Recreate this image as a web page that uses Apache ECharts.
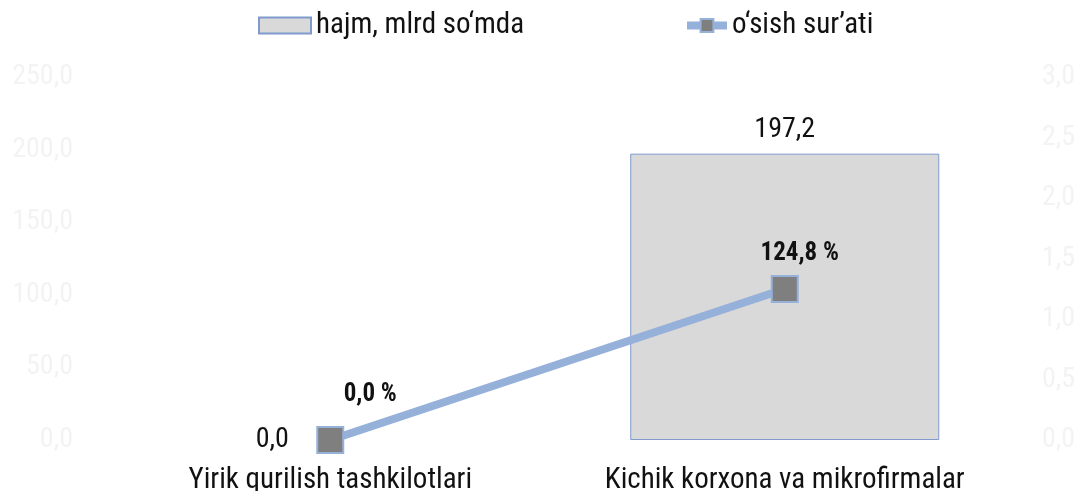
<!DOCTYPE html>
<html>
<head>
<meta charset="utf-8">
<script src="https://cdn.jsdelivr.net/npm/echarts@6/dist/echarts.min.js"></script>
<style>
html, body { margin: 0; padding: 0; background: #fff; }
#main { width: 1076px; height: 491px; }
</style>
</head>
<body>
<div id="main"></div>
<script>
var categories = ['Yirik qurilish tashkilotlari', 'Kichik korxona va mikrofirmalar'];
var hajm = [0.0, 197.2];
var osish = [0.0, 1.248];
var leftTicks = [0, 250, 50];
var rightTicks = [0, 3, 0.5];

var fontFam = '"Roboto Condensed", "Liberation Sans Narrow", Roboto, sans-serif';
var chartDom = document.getElementById('main');
var myChart = echarts.init(chartDom);
var option;

function fmt(v, d) {
    return v.toFixed(d).replace('.', ',');
}

option = {
    textStyle: { fontFamily: fontFam },
    legend: [
        {
            top: 6,
            left: 253,
            itemWidth: 52,
            itemHeight: 16,
            itemGap: 4,
            textStyle: { fontSize: 29, color: '#111', fontFamily: fontFam },
            data: [{ name: 'hajm, mlrd so‘mda', icon: 'rect' }]
        },
        {
            top: 6,
            left: 678,
            itemWidth: 40,
            itemHeight: 16,
            itemGap: 4,
            lineStyle: { width: 8 },
            textStyle: { fontSize: 29, color: '#111', fontFamily: fontFam },
            data: [{ name: 'o‘sish sur’ati' }]
        }
    ],
    grid: { left: 103, right: 64, top: 77, bottom: 51, outerBoundsMode: 'none', containLabel: false },
    xAxis: {
        type: 'category',
        data: categories,
        axisLine: { show: false },
        axisTick: { show: false },
        axisLabel: { interval: 0, fontSize: 29, color: '#111', margin: 26, fontFamily: fontFam }
    },
    yAxis: [
        {
            type: 'value',
            min: leftTicks[0], max: leftTicks[1], interval: leftTicks[2],
            splitLine: { show: false },
            axisLabel: { fontSize: 28, color: '#f3f3f3', margin: 30, formatter: function (v) { return fmt(v, 1); } }
        },
        {
            type: 'value',
            min: rightTicks[0], max: rightTicks[1], interval: rightTicks[2],
            splitLine: { show: false },
            axisLabel: { fontSize: 28, color: '#f3f3f3', margin: 30, formatter: function (v) { return fmt(v, 1); } }
        }
    ],
    series: [
        {
            name: 'hajm, mlrd so‘mda',
            type: 'bar',
            barWidth: '68%',
            itemStyle: { color: '#d9d9d9', borderColor: '#7f9acb', borderWidth: 1 },
            label: {
                show: true,
                position: 'top',
                distance: 10,
                fontSize: 28,
                color: '#111',
                formatter: function (p) { return fmt(p.value, 1); }
            },
            data: hajm.map(function (v, i) {
                if (i === 0) return { value: v, itemStyle: { borderWidth: 0 }, label: { offset: [-58, 24] } };
                return v;
            })
        },
        {
            name: 'o‘sish sur’ati',
            type: 'line',
            yAxisIndex: 1,
            symbol: 'rect',
            symbolSize: 26,
            lineStyle: { color: '#95b0d9', width: 8 },
            itemStyle: { color: '#7f7f7f', borderColor: '#95b0d9', borderWidth: 2 },
            label: {
                show: true,
                position: 'top',
                fontSize: 25,
                fontWeight: 'bold',
                color: '#111',
                formatter: function (p) { return fmt(p.value * 100, 1) + ' %'; }
            },
            data: osish.map(function (v, i) {
                var off = i === 0 ? [40, -14] : [15, -4];
                return { value: v, label: { offset: off } };
            })
        }
    ]
};

option && myChart.setOption(option);
</script>
</body>
</html>
